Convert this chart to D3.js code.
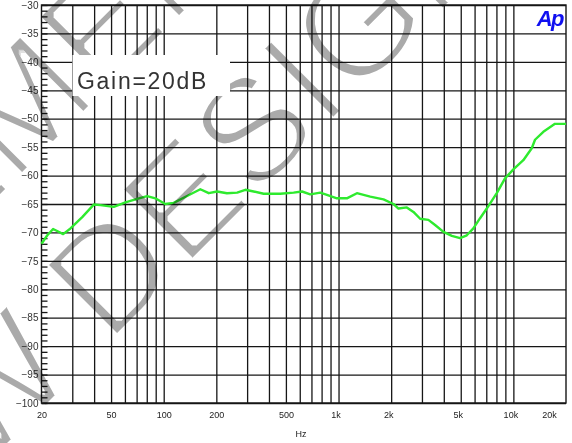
<!DOCTYPE html>
<html>
<head>
<meta charset="utf-8">
<script src="https://cdn.jsdelivr.net/npm/d3@7"></script>
<style>
  html, body { margin: 0; padding: 0; background: #fff; }
  svg { display: block; }
</style>
</head>
<body>
<svg id="chart" width="572" height="443"></svg>
<script>
// Frequency response measurement (Hz vs dB)
const freqHz = [20, 21.6, 23.3, 24.4, 26.6, 29.3, 34.2, 39.8, 43.5, 51.8, 60.4, 70.5, 80.4, 89.6,
  102, 114, 136, 162, 181, 202, 230, 263, 293, 327, 373, 464, 553, 618, 689, 786, 858, 979,
  1116, 1274, 1518, 1808, 2062, 2202, 2458, 2682, 2930, 3266, 3566, 3982, 4446, 4956, 5416,
  5904, 6450, 7044, 8036, 8960, 10000, 11400, 12740, 13300, 14840, 17300, 20000];
const levelDb = [-72.0, -70.5, -69.4, -69.7, -70.3, -69.3, -67.3, -65.1, -65.2, -65.5, -64.7, -64.1, -63.6, -64.0,
  -65.0, -64.8, -63.6, -62.4, -63.1, -62.8, -63.1, -63.0, -62.5, -62.8, -63.2, -63.2, -63.0, -62.8, -63.3, -63.0, -63.4, -64.0,
  -64.0, -63.1, -63.7, -64.2, -65.0, -65.8, -65.6, -66.4, -67.6, -67.8, -68.7, -69.9, -70.6, -71.0, -70.5,
  -69.3, -67.5, -65.8, -63.1, -60.5, -58.9, -57.3, -55.2, -53.7, -52.3, -50.9, -50.9];

// Axis ticks
const gridFreqs = [30, 40, 50, 60, 70, 80, 90, 100, 200, 300, 400, 500, 600, 700, 800, 900,
  1000, 2000, 3000, 4000, 5000, 6000, 7000, 8000, 9000, 10000];
const freqLabelValues = [20, 50, 100, 200, 500, 1000, 2000, 5000, 10000, 20000];
const freqLabels = ["20", "50", "100", "200", "500", "1k", "2k", "5k", "10k", "20k"];
const dbTicks = [-100, -95, -90, -85, -80, -75, -70, -65, -60, -55, -50, -45, -40, -35, -30];
const dbMinorTicks = d3.range(-100, -29, 1);

const annotation = "Gain=20dB";
const axisTitle = "Hz";
const logoText = "Ap";
const watermarkUpper = "ELEMENT";
const watermarkLowerA = "NEW";
const watermarkLowerB = "DESIGN";

const svg = d3.select("#chart");
const plotL = 41.5, plotR = 566, plotT = 5, plotB = 403;

const x = d3.scaleLog().domain([20, 20000]).range([plotL, plotR]);
const y = d3.scaleLinear().domain([-100, -30]).range([plotB, plotT]);

const ink = "#161616";

// Vertical grid lines
const xGrid = svg.append("g")
  .attr("transform", `translate(0,${plotB})`)
  .call(d3.axisBottom(x).tickValues(gridFreqs).tickSize(-(plotB - plotT)).tickFormat(""));
xGrid.select(".domain").remove();
xGrid.selectAll("line").attr("stroke", ink).attr("stroke-width", 1.3);

// Horizontal grid lines
const yGrid = svg.append("g")
  .attr("transform", `translate(${plotL},0)`)
  .call(d3.axisLeft(y).tickValues(dbTicks).tickSize(-(plotR - plotL)).tickFormat(""));
yGrid.select(".domain").remove();
yGrid.selectAll("line").attr("stroke", ink).attr("stroke-width", 1.3);

// Minor dB ticks along the left edge
const yMinor = svg.append("g")
  .attr("transform", `translate(${plotL},0)`)
  .call(d3.axisRight(y).tickValues(dbMinorTicks).tickSize(6).tickFormat(""));
yMinor.select(".domain").remove();
yMinor.selectAll("line").attr("stroke", ink).attr("stroke-width", 1.3);

// Plot frame
svg.append("rect")
  .attr("x", plotL).attr("y", plotT)
  .attr("width", plotR - plotL).attr("height", plotB - plotT)
  .attr("fill", "none").attr("stroke", ink).attr("stroke-width", 1.4);

// dB labels
const yLab = svg.append("g")
  .attr("transform", `translate(${plotL},0)`)
  .call(d3.axisLeft(y).tickValues(dbTicks).tickSize(0).tickPadding(3).tickFormat(d3.format("d")));
yLab.select(".domain").remove();
yLab.selectAll("text")
  .attr("font-family", "Liberation Sans, Arial, sans-serif")
  .attr("font-size", 10).attr("fill", "#333");

// Frequency labels
const xLab = svg.append("g")
  .attr("transform", `translate(0,${plotB})`)
  .call(d3.axisBottom(x).tickValues(freqLabelValues).tickSize(0).tickPadding(9)
    .tickFormat((d, i) => freqLabels[i]));
xLab.select(".domain").remove();
xLab.selectAll("text")
  .attr("font-family", "Liberation Sans, Arial, sans-serif")
  .attr("font-size", 9).attr("fill", "#222")
  .attr("dx", (d, i) => freqLabels[i].endsWith("k") ? (d === 20000 ? -17 : -3) : 0);

svg.append("text")
  .attr("x", 301).attr("y", 437)
  .attr("text-anchor", "middle")
  .attr("font-family", "Liberation Sans, Arial, sans-serif")
  .attr("font-size", 9).attr("fill", "#222")
  .text(axisTitle);

// Response curve
const line = d3.line()
  .x((d, i) => x(freqHz[i]))
  .y(d => y(d))
  .curve(d3.curveLinear);
svg.append("path")
  .datum(levelDb)
  .attr("d", line)
  .attr("fill", "none")
  .attr("stroke", "#2eea2e")
  .attr("stroke-width", 2.4)
  .attr("stroke-linejoin", "round");

// Diagonal watermark, thinned with an erode filter and multiplied over the plot
const defs = svg.append("defs");
defs.append("filter").attr("id", "thin")
  .attr("filterUnits", "userSpaceOnUse")
  .attr("x", 0).attr("y", 0).attr("width", 572).attr("height", 443)
  .append("feMorphology").attr("operator", "erode").attr("radius", 1.5);

const wm = svg.append("g")
  .style("mix-blend-mode", "multiply")
  .attr("filter", "url(#thin)")
  .attr("fill", "#aaaaaa")
  .attr("font-family", "Liberation Sans, Arial, sans-serif")
  .attr("font-size", 148);

const upper = wm.append("g").attr("transform", "translate(-19.5,217.5) rotate(-45)");
upper.append("text").attr("x", -233).attr("y", 0).text(watermarkUpper);

const lower = wm.append("g").attr("transform", "translate(108.5,345.5) rotate(-45)");
lower.append("text").attr("x", -41).attr("y", 0).attr("text-anchor", "end").text(watermarkLowerA);
lower.append("text").attr("x", 0).attr("y", 0).text(watermarkLowerB);

// Annotation box
svg.append("rect")
  .attr("x", 72.5).attr("y", 55).attr("width", 157.5).attr("height", 41)
  .attr("fill", "#fff");
svg.append("text")
  .attr("x", 77).attr("y", 89)
  .attr("font-family", "Liberation Sans, Arial, sans-serif")
  .attr("font-size", 23).attr("letter-spacing", 1.7)
  .attr("fill", "#333")
  .text(annotation);

// Logo
svg.append("text")
  .attr("x", 563).attr("y", 26)
  .attr("text-anchor", "end")
  .attr("font-family", "Liberation Sans, Arial, sans-serif")
  .attr("font-size", 22).attr("font-weight", "bold").attr("font-style", "italic")
  .attr("letter-spacing", -1.5)
  .attr("fill", "#1010f0")
  .text(logoText);
</script>
</body>
</html>
